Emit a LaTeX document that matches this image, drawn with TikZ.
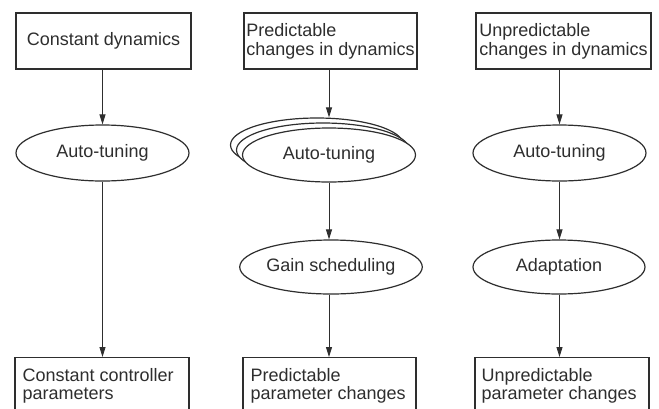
\documentclass[tikz,border=0pt]{standalone}
\usepackage{fontspec}
\setmainfont{Liberation Sans}
\usetikzlibrary{arrows.meta,shapes.geometric}
\definecolor{ink}{HTML}{2E2E2E}
\tikzset{
  every node/.style={font=\fontsize{18}{19}\selectfont, text=ink},
  box/.style={draw=ink, line width=1.2pt, rectangle, minimum height=56pt, inner xsep=3.5pt, inner ysep=0pt},
  topbox/.style={box, inner xsep=0.5pt, align=left},
  lowbox/.style={draw=ink, line width=1.2pt, rectangle, minimum height=80pt, anchor=north, inner sep=0pt},
  lowtext/.style={anchor=north west, inner sep=0pt, align=left, font=\fontsize{18}{18}\selectfont},
  ell/.style={draw=ink, line width=1.2pt, ellipse, minimum width=173pt, minimum height=56pt, inner sep=0pt},
  conn/.style={draw=ink, line width=0.9pt, -{Triangle[length=10pt,width=6pt]}}
}
\begin{document}
\begin{tikzpicture}[x=1pt,y=-1pt]
\useasboundingbox (0,0) rectangle (659,408);
\fill[white] (0,0) rectangle (659,408);
% top boxes
\node[box, minimum width=175pt] (b1) at (103.5,41) {Constant dynamics};
\node[topbox, minimum width=173pt] (b2) at (330.5,41) {Predictable\\changes in dynamics};
\node[topbox, minimum width=175pt] (b3) at (563.5,41) {Unpredictable\\changes in dynamics};
% auto-tuning ellipses
\node[ell] (e1) at (102.5,153) {Auto-tuning};
\node[ell, minimum height=54pt] (e2c) at (317,145) {};
\node[ell, minimum height=54pt, fill=white] (e2b) at (323,150) {};
\node[ell, minimum height=54pt, fill=white] (e2) at (329,155) {Auto-tuning};
\node[ell] (e3) at (559.5,153) {Auto-tuning};
% second row ellipses
\node[ell, minimum width=172pt, minimum height=54pt] (g2) at (331,267) {Gain scheduling};
\node[ell, minimum width=172pt, minimum height=54pt] (g3) at (559,267) {Adaptation};
% bottom boxes
\node[lowbox, minimum width=174pt] (d1) at (102,357) {};
\node[lowbox, minimum width=173pt] (d2) at (329.5,357) {};
\node[lowbox, minimum width=174pt] (d3) at (562,357) {};
\node[lowtext] (t1) at ([xshift=8pt,yshift=-11pt]d1.north west) {Constant controller\\parameters};
\node[lowtext] (t2) at ([xshift=8pt,yshift=-11pt]d2.north west) {Predictable\\parameter changes};
\node[lowtext] (t3) at ([xshift=7pt,yshift=-11pt]d3.north west) {Unpredictable\\parameter changes};
% connectors
\draw[conn] (b1.south -| e1.north) -- (e1.north);
\draw[conn] (e1.south) -- (d1.north -| e1.south);
\draw[conn] (b2.south -| e2.north) -- (e2c.north -| e2.north);
\draw[conn] (e2.south) -- (g2.north -| e2.south);
\draw[conn] (g2.south -| e2.south) -- (d2.north -| e2.south);
\draw[conn] (b3.south -| e3.north) -- (e3.north);
\draw[conn] (e3.south) -- (g3.north -| e3.south);
\draw[conn] (g3.south -| e3.south) -- (d3.north -| e3.south);
\end{tikzpicture}
\end{document}
